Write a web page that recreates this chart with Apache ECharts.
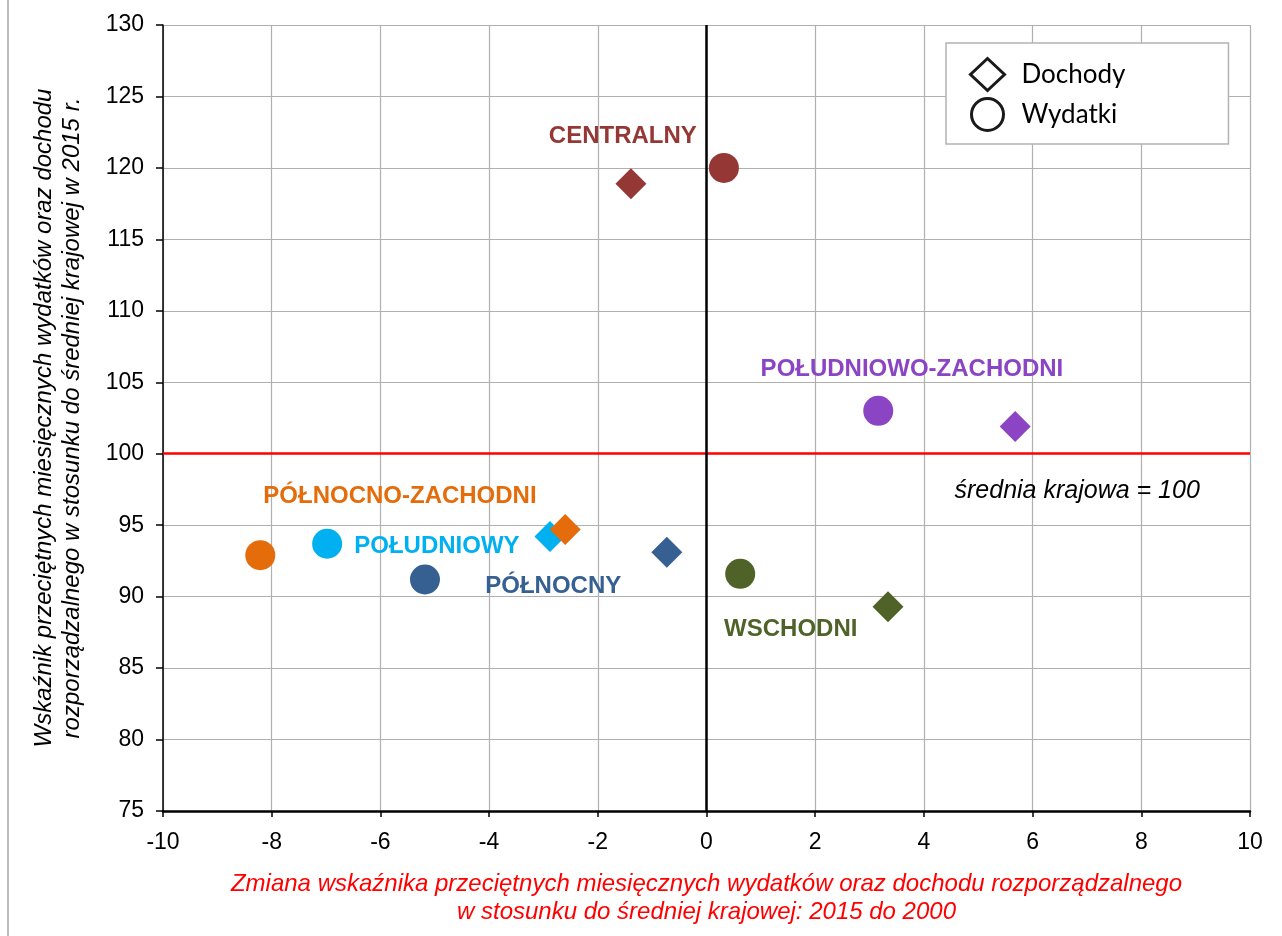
<!DOCTYPE html>
<html>
<head>
<meta charset="utf-8">
<script src="https://cdn.jsdelivr.net/npm/echarts@6/dist/echarts.min.js"></script>
<style>html,body{margin:0;padding:0;background:#fff}#c{width:1282px;height:936px}</style>
</head>
<body>
<div id="c"></div>
<script>
// Data
const regions = ['CENTRALNY','POŁUDNIOWO-ZACHODNI','WSCHODNI','PÓŁNOCNY','POŁUDNIOWY','PÓŁNOCNO-ZACHODNI'];
const regionColors = ['#953735','#8B45C4','#4F6228','#376092','#00B0F0','#E46C0A'];
// Dochody (diamonds): [x change, y index]
const dochodyX = [-1.39, 5.68, 3.34, -0.73, -2.88, -2.60];
const dochodyY = [118.9, 101.9, 89.3, 93.1, 94.2, 94.7];
// Wydatki (circles)
const wydatkiX = [0.32, 3.16, 0.62, -5.18, -6.98, -8.21];
const wydatkiY = [120.0, 103.0, 91.6, 91.2, 93.7, 92.9];
// label anchor points (data units)
const labelX = [-1.54, 3.78, 1.55, -2.82, -4.96, -5.64];
const labelY = [122.2, 105.9, 87.7, 90.7, 93.5, 97.0];
const avgValue = 100;
const avgLabel = 'średnia krajowa = 100';
const avgLabelPos = [6.82, 97.4];
const xTitle = 'Zmiana wskaźnika przeciętnych miesięcznych wydatków oraz dochodu rozporządzalnego\nw stosunku do średniej krajowej: 2015 do 2000';
const yTitle = 'Wskaźnik przeciętnych miesięcznych wydatków oraz dochodu\nrozporządzalnego w stosunku do średniej krajowej w 2015 r.';

const chart = echarts.init(document.getElementById('c'), null, {renderer:'canvas'});
const font = '"Liberation Sans", Arial, sans-serif';

const option = {
  backgroundColor: '#fff',
  animation: false,
  grid: {left:163, right:32, top:25, bottom:125, show:false},
  graphic: [{type:'line', shape:{x1:8, y1:0, x2:8, y2:936}, style:{stroke:'#a6a6a6', lineWidth:1.5}}],
  legend: {
    left: 946, top: 43, orient: 'vertical',
    padding: [14, 103, 12, 23],
    borderColor: '#b3b3b3', borderWidth: 1.5, backgroundColor:'#fff',
    itemWidth: 34, itemHeight: 32, itemGap: 5,
    textStyle: {fontFamily:'Lato, "Open Sans", sans-serif', fontSize: 26, color:'#000', padding:[4,0,0,12]},
    data: [
      {name:'Dochody', icon:'diamond', itemStyle:{color:'#fff', borderColor:'#1a1a1a', borderWidth:3, opacity:1}},
      {name:'Wydatki', icon:'circle', itemStyle:{color:'#fff', borderColor:'#1a1a1a', borderWidth:3, opacity:1}}
    ]
  },
  xAxis: {
    type:'value', min:-10, max:10, interval:2,
    name: xTitle, nameLocation:'middle', nameGap: 59,
    nameTextStyle:{color:'#ff0000', fontStyle:'italic', fontFamily:font, fontSize:24, lineHeight:28},
    axisLine:{onZero:false, lineStyle:{color:'#000', width:2.5}},
    axisTick:{show:true, length:6, lineStyle:{color:'#000', width:1.5}},
    axisLabel:{color:'#000', fontFamily:font, fontSize:23, margin:20},
    splitLine:{show:true, lineStyle:{color:'#b0b0b0', width:1.2}}
  },
  yAxis: {
    type:'value', min:75, max:130, interval:5,
    name: yTitle, nameLocation:'middle', nameGap: 77, nameRotate: 90,
    nameTextStyle:{color:'#000', fontStyle:'italic', fontFamily:font, fontSize:24, lineHeight:28},
    axisLine:{show:true, onZero:false, lineStyle:{color:'#000', width:1.5}},
    axisTick:{show:true, length:7, lineStyle:{color:'#000', width:1.5}},
    axisLabel:{color:'#000', fontFamily:font, fontSize:23, margin:19},
    splitLine:{show:true, lineStyle:{color:'#b0b0b0', width:1.2}}
  },
  series: [
    {
      name:'lines', type:'scatter', data:[], silent:true,
      markLine:{
        silent:true, symbol:'none', label:{show:false},
        data:[
          {yAxis: avgValue, lineStyle:{color:'#ff0000', width:2.5, type:'solid'}},
          {xAxis: 0, lineStyle:{color:'#000', width:2.5, type:'solid'}}
        ]
      }
    },
    {
      name:'Dochody', type:'scatter', symbol:'diamond', symbolSize:[31,31], z:3,
      itemStyle:{opacity:1},
      data: regions.map((r,i)=>({name:r, value:[dochodyX[i], dochodyY[i]], itemStyle:{color:regionColors[i], opacity:1}}))
    },
    {
      name:'Wydatki', type:'scatter', symbol:'circle', symbolSize:30, z:3,
      itemStyle:{opacity:1},
      data: regions.map((r,i)=>({name:r, value:[wydatkiX[i], wydatkiY[i]], itemStyle:{color:regionColors[i], opacity:1}}))
    },
    {
      name:'labels', type:'scatter', symbolSize:0, silent:true, z:4,
      itemStyle:{opacity:1},
      data: regions.map((r,i)=>({name:r, value:[labelX[i], labelY[i]],
        label:{show:true, position:'inside', formatter:r, color:regionColors[i], fontWeight:'bold', fontFamily:font, fontSize:24}}))
        .concat([{name:avgLabel, value:avgLabelPos,
          label:{show:true, position:'inside', formatter:avgLabel, color:'#000', fontStyle:'italic', fontFamily:font, fontSize:25}}])
    }
  ]
};
chart.setOption(option);
</script>
</body>
</html>
